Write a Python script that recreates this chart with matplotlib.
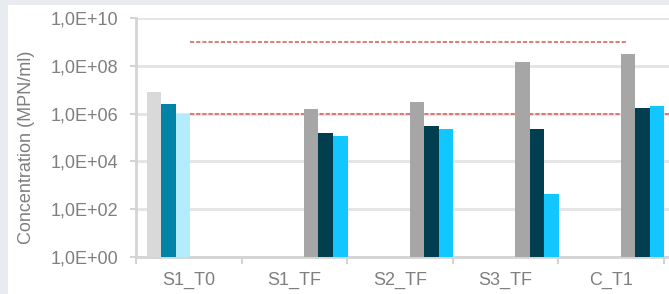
import matplotlib
matplotlib.use("Agg")
import matplotlib.pyplot as plt
import numpy as np
from matplotlib.patches import Rectangle
from matplotlib.ticker import FixedLocator, NullFormatter

plt.rcParams['font.family'] = ['Liberation Sans', 'DejaVu Sans']

# ---- data ----
categories = ['S1_T0', 'S1_TF', 'S2_TF', 'S3_TF', 'C_T1']
series_a = [8.5e6, 1.5e6, 3.2e6, 1.5e8, 3.1e8]
series_b = [2.5e6, 1.5e5, 3.0e5, 2.2e5, 1.7e6]
series_c = [1.0e6, 1.2e5, 2.2e5, 4.1e2, 2.1e6]
ytick_vals = [1e0, 1e2, 1e4, 1e6, 1e8, 1e10]
ytick_labels = ['1,0E+00', '1,0E+02', '1,0E+04', '1,0E+06', '1,0E+08', '1,0E+10']
threshold_high = 1e9
threshold_low = 1e6

# ---- style ----
colors_t0 = ['#d9d9d9', '#0083a6', '#b3ebff']
colors_other = ['#a6a6a6', '#013f50', '#12c6ff']
label_color = '#7f7f7f'
axis_color = '#d4d4d4'
grid_color = '#e4e4e4'
red = '#dc6464'

W, H = 669, 294
fig = plt.figure(figsize=(W / 100, H / 100), dpi=100)
fig.patch.set_facecolor('#e8ebef')
fig.add_artist(Rectangle((8 / W, 0), 1, 1 - 5 / H, transform=fig.transFigure,
                         facecolor='white', edgecolor='none', zorder=0))

unit = 105.6  # px per category
x_left_px, y_bottom_px, y_top_px = 136, 256.7, 18.3
xmax = 5.2
ax = fig.add_axes([x_left_px / W, (H - y_bottom_px) / H,
                   xmax * unit / W, (y_bottom_px - y_top_px) / H])
ax.set_facecolor('none')
ax.set_yscale('log')
ax.set_ylim(1, 1e10)
ax.set_xlim(0, xmax)

bw = 0.138
for i, cat in enumerate(categories):
    vals = [series_a[i], series_b[i], series_c[i]]
    if i == 0:
        cols, off = colors_t0, 0.10
    else:
        cols, off = colors_other, 0.59
    for j, (v, c) in enumerate(zip(vals, cols)):
        ax.bar(i + off + j * bw, v, width=bw, align='edge', color=c,
               edgecolor='none', zorder=3)

ax.plot([0.51, 4.65], [threshold_high] * 2, color=red, lw=1.2,
        dashes=(2.5, 1.2), zorder=2)
ax.plot([0.51, xmax], [threshold_low] * 2, color=red, lw=1.2,
        dashes=(2.5, 1.2), zorder=2)

ax.yaxis.set_major_locator(FixedLocator(ytick_vals))
ax.yaxis.set_minor_locator(FixedLocator([]))
ax.set_yticklabels(ytick_labels)
ax.grid(axis='y', color=grid_color, lw=2, zorder=1)
ax.tick_params(axis='y', length=4.5, width=1.5, color=axis_color,
               labelsize=13, labelcolor=label_color, pad=8)

ax.set_xticks(np.arange(0, 6))
ax.xaxis.set_major_formatter(NullFormatter())
ax.set_xticks(np.arange(len(categories)) + 0.5, minor=True)
ax.set_xticklabels(categories, minor=True)
ax.tick_params(axis='x', which='major', length=5, width=1.5, color=axis_color)
ax.tick_params(axis='x', which='minor', length=0, labelsize=13,
               labelcolor=label_color, pad=11)

for s in ['top', 'right']:
    ax.spines[s].set_visible(False)
for s in ['left', 'bottom']:
    ax.spines[s].set_color(axis_color)
    ax.spines[s].set_linewidth(2)
ax.set_axisbelow(True)

fig.text(26.5 / W, (H - 147.5) / H, 'Concentration (MPN/ml)', rotation=90,
         ha='center', va='center', fontsize=13, color=label_color)

fig.savefig('out.png', dpi=100, facecolor=fig.get_facecolor())
